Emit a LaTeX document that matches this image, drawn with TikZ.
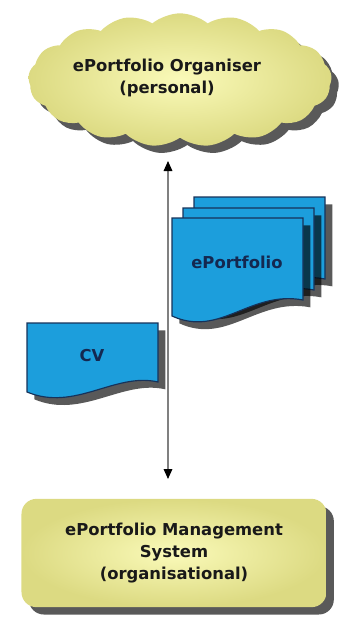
\documentclass[tikz,border=0pt]{standalone}
\usepackage{fontspec}
\setmainfont{DejaVu Sans}
\usepackage{tikz}
\usetikzlibrary{shapes.symbols,shadows,arrows.meta}

\definecolor{khaki}{RGB}{220,218,130}
\definecolor{khakilight}{RGB}{250,250,185}
\definecolor{docblue}{RGB}{28,158,220}
\definecolor{docedge}{RGB}{22,50,90}
\definecolor{docink}{RGB}{20,40,80}

\tikzset{
  boldtext/.style={font=\fontsize{14}{18.5}\selectfont\bfseries, align=center, text=black!90},
  yellowfill/.style={inner color=khakilight, outer color=khaki},
  softshadow/.style={drop shadow={shadow xshift=0.22cm, shadow yshift=-0.22cm, opacity=0.65, fill=black}},
  docpage/.style={fill=docblue, draw=docedge, line width=1pt, softshadow},
  link/.style={draw=black!50, line width=1pt, {Triangle[width=0.26cm,length=0.3cm,color=black]}-{Triangle[width=0.26cm,length=0.3cm,color=black]}}
}

\begin{document}
\begin{tikzpicture}[x=0.03cm, y=-0.03cm]
    \useasboundingbox (0,0) rectangle (345,621);

    % personal organiser (cloud)
    \node[cloud, cloud puffs=17, cloud puff arc=80, aspect=2.4, minimum width=9.1cm, minimum height=4cm, yellowfill, softshadow] (orgcloud) at (180,80) {};
    \node[boldtext] (organiser) at (167,78) {ePortfolio Organiser\\(personal)};

    % stack of ePortfolio pages, back to front
    \foreach \dx/\dy in {22/-21, 11/-10, 0/0} {
        \begin{scope}[shift={(\dx,\dy)}]
            \draw[docpage] (172,218) -- (303,218) -- (303,300) .. controls (250,290) and (220,338) .. (172,316) -- cycle;
        \end{scope}
    }
    \node[boldtext, text=docink] (eport) at (237,262) {ePortfolio};

    % CV page
    \draw[docpage] (27,323) -- (158,323) -- (158,382) .. controls (115,372) and (75,412) .. (27,392) -- cycle;
    \node[boldtext, text=docink] (cv) at (92,356) {CV};

    % organisational system
    \node[rounded corners=0.45cm, minimum width=9.15cm, minimum height=3.25cm, yellowfill, softshadow, boldtext] (mgmt) at (174,553) {ePortfolio Management\\System\\(organisational)};

    % two-way link
    \coordinate (up) at (168,161);
    \coordinate (down) at (168,479);
    \draw[link] (up) -- (down);
\end{tikzpicture}
\end{document}
